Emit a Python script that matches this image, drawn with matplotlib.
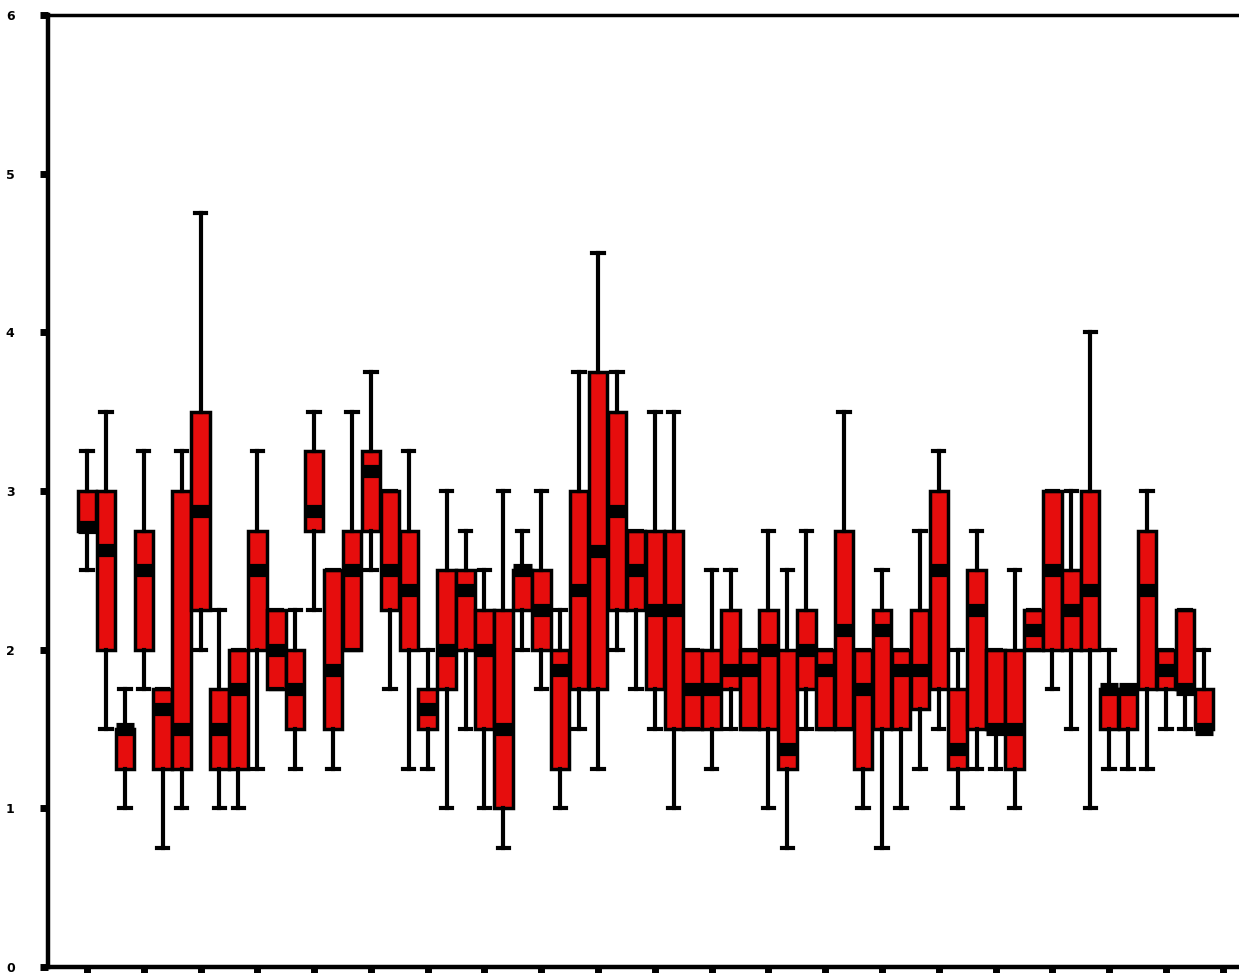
import numpy as np
import matplotlib; matplotlib.use("Agg")
import matplotlib.pyplot as plt

# ---------- dati (60 box, scala 0-6) ----------
whisker_lo = [2.5, 1.5, 1, 1.75, 0.75, 1, 2, 1, 1, 1.25,
              1.75, 1.25, 2.25, 1.25, 2, 2.5, 1.75, 1.25, 1.25, 1,
              1.5, 1, 0.75, 2, 1.75, 1, 1.5, 1.25, 2, 1.75,
              1.5, 1, 1.5, 1.25, 1.5, 1.5, 1, 0.75, 1.5, 1.5,
              1.5, 1, 0.75, 1, 1.25, 1.5, 1, 1.25, 1.25, 1,
              2, 1.75, 1.5, 1, 1.25, 1.25, 1.25, 1.5, 1.5, 1.5]
q1 = [2.75, 2, 1.25, 2, 1.25, 1.25, 2.25, 1.25, 1.25, 2,
      1.75, 1.5, 2.75, 1.5, 2, 2.75, 2.25, 2, 1.5, 1.75,
      2, 1.5, 1, 2.25, 2, 1.25, 1.75, 1.75, 2.25, 2.25,
      1.75, 1.5, 1.5, 1.5, 1.75, 1.5, 1.5, 1.25, 1.75, 1.5,
      1.5, 1.25, 1.5, 1.5, 1.625, 1.75, 1.25, 1.5, 1.5, 1.25,
      2, 2, 2, 2, 1.5, 1.5, 1.75, 1.75, 1.75, 1.5]
median = [2.77, 2.63, 1.5, 2.5, 1.625, 1.5, 2.875, 1.5, 1.75, 2.5,
          2, 1.75, 2.875, 1.875, 2.5, 3.125, 2.5, 2.375, 1.625, 2,
          2.375, 2, 1.5, 2.5, 2.25, 1.875, 2.375, 2.625, 2.875, 2.5,
          2.25, 2.25, 1.75, 1.75, 1.875, 1.875, 2, 1.375, 2, 1.875,
          2.125, 1.75, 2.125, 1.875, 1.875, 2.5, 1.375, 2.25, 1.5, 1.5,
          2.125, 2.5, 2.25, 2.375, 1.75, 1.75, 2.375, 1.875, 1.75, 1.5]
q3 = [3, 3, 1.5, 2.75, 1.75, 3, 3.5, 1.75, 2, 2.75,
      2.25, 2, 3.25, 2.5, 2.75, 3.25, 3, 2.75, 1.75, 2.5,
      2.5, 2.25, 2.25, 2.5, 2.5, 2, 3, 3.75, 3.5, 2.75,
      2.75, 2.75, 2, 2, 2.25, 2, 2.25, 2, 2.25, 2,
      2.75, 2, 2.25, 2, 2.25, 3, 1.75, 2.5, 2, 2,
      2.25, 3, 2.5, 3, 1.75, 1.75, 2.75, 2, 2.25, 1.75]
whisker_hi = [3.25, 3.5, 1.75, 3.25, 1.75, 3.25, 4.75, 2.25, 2, 3.25,
              2.25, 2.25, 3.5, 2.5, 3.5, 3.75, 3, 3.25, 2, 3,
              2.75, 2.5, 3, 2.75, 3, 2.25, 3.75, 4.5, 3.75, 2.75,
              3.5, 3.5, 2, 2.5, 2.5, 2, 2.75, 2.5, 2.75, 2,
              3.5, 2, 2.5, 2, 2.75, 3.25, 2, 2.75, 2, 2.5,
              2.25, 3, 3, 4, 2, 1.75, 3, 2, 2.25, 2]
y_ticks = [0, 1, 2, 3, 4, 5, 6]

RED = "#e60d0d"; INK = "#000000"

stats = [dict(whislo=a, q1=b, med=c, q3=d, whishi=e, fliers=[])
         for a, b, c, d, e in zip(whisker_lo, q1, median, q3, whisker_hi)]
pos = np.arange(len(stats))

fig = plt.figure(figsize=(12.39, 9.73), dpi=100)
ax = fig.add_axes([48/1239, 6/973, (1239-48)/1239, (967-15)/973])

ax.bxp(stats, positions=pos, widths=0.98, patch_artist=True, showfliers=False,
       boxprops=dict(facecolor=RED, edgecolor=INK, linewidth=2.5),
       medianprops=dict(color=INK, linewidth=9.5, solid_capstyle="butt"),
       whiskerprops=dict(color=INK, linewidth=3.0),
       capprops=dict(color=INK, linewidth=3.0), capwidths=0.6)

ax.set_xlim(-2.06, 60.86)
ax.set_ylim(0, 6)
ax.set_yticks(y_ticks)
ax.set_yticklabels([str(v) for v in y_ticks], fontsize=9, fontweight="bold")
ax.set_xticks(np.arange(0, 61, 3))
ax.set_xticklabels([])
ax.tick_params(axis="y", direction="out", length=6, width=5, pad=18, colors=INK)
ax.tick_params(axis="x", direction="out", length=6, width=5, colors=INK)
for s in ["left", "bottom"]:
    ax.spines[s].set_linewidth(3.2)
ax.spines["top"].set_linewidth(2.5)
ax.spines["right"].set_visible(False)
ax.grid(False)

fig.savefig("out.png", dpi=100, facecolor="white")
